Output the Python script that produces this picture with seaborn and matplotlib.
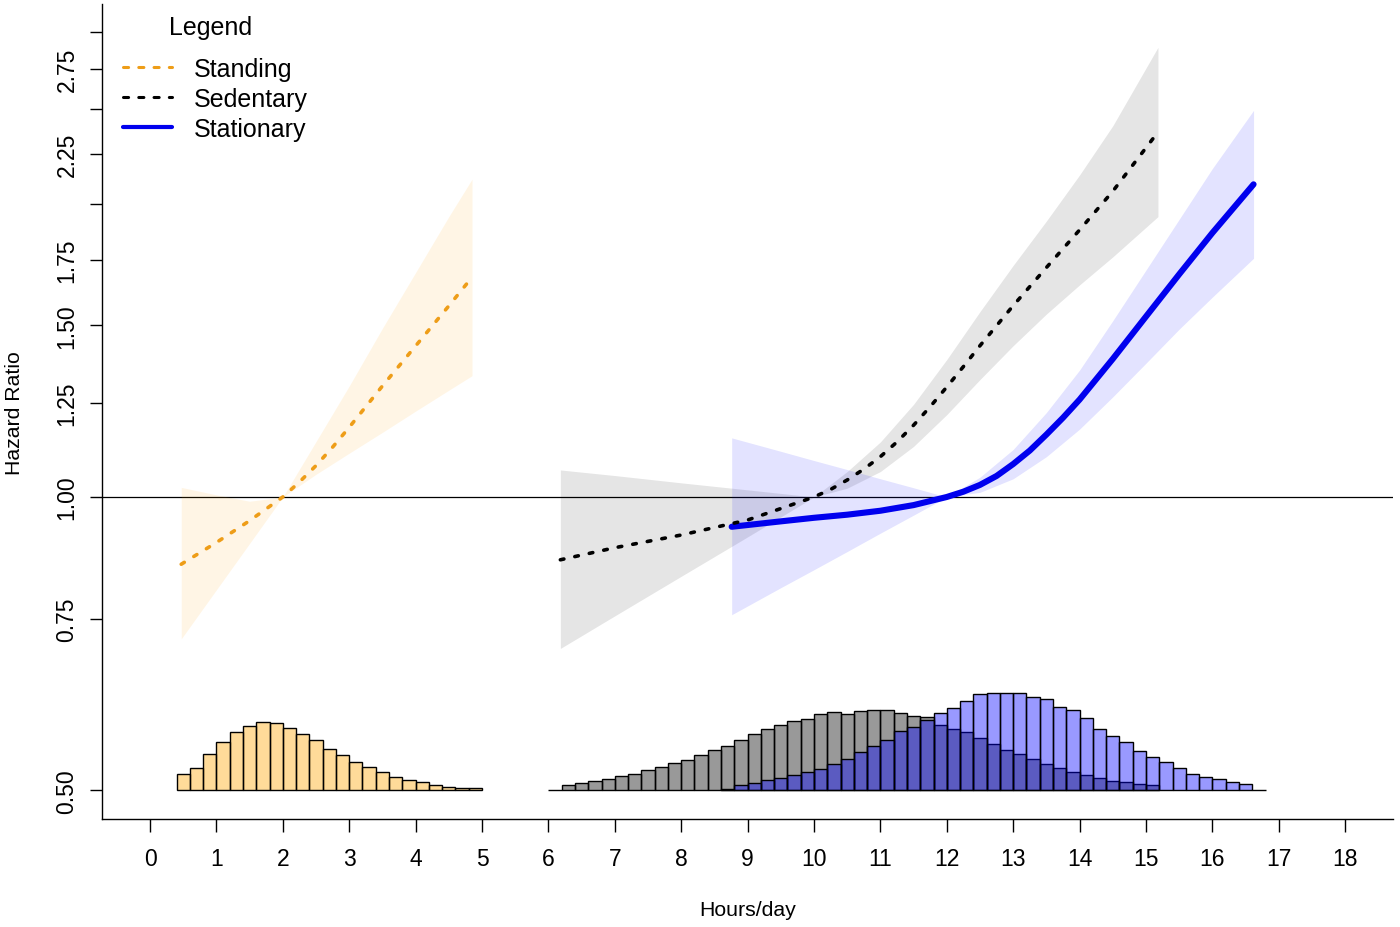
import numpy as np
import pandas as pd
import matplotlib
matplotlib.use("Agg")
import matplotlib.pyplot as plt
from matplotlib.ticker import NullLocator
from matplotlib.lines import Line2D
import seaborn as sns

# ---------------- data ----------------
# Standing (hours/day vs hazard ratio)
standing_line_hours = [0.47, 1.0, 1.5, 2.0, 2.25, 2.5, 2.75, 3.0, 3.5, 4.0, 4.5, 4.8]
standing_hr         = [0.853, 0.898, 0.9455, 1.0, 1.036, 1.077, 1.125, 1.179, 1.30, 1.429, 1.571, 1.665]
standing_ci_hours = [0.47, 1.0, 1.5, 2.0, 2.5, 3.0, 3.5, 4.0, 4.5, 4.85]
standing_upper    = [1.023, 1.005, 0.990, 1.0, 1.140, 1.30, 1.49, 1.700, 1.94, 2.120]
standing_lower    = [0.715, 0.803, 0.896, 1.0, 1.055, 1.109, 1.165, 1.225, 1.287, 1.332]

# Sedentary
sedentary_line_hours = [6.18, 7.0, 8.0, 9.0, 9.5, 10.0, 10.25, 10.5, 10.75, 11.0, 11.25, 11.5,
                        11.75, 12.0, 12.25, 12.5, 13.0, 13.5, 14.0, 14.5, 15.12]
sedentary_hr         = [0.862, 0.887, 0.914, 0.947, 0.973, 1.0, 1.018, 1.041, 1.068, 1.10, 1.139, 1.185,
                        1.238, 1.297, 1.361, 1.43, 1.572, 1.72, 1.88, 2.06, 2.34]
sedentary_ci_hours = [6.18, 7.0, 8.0, 9.0, 10.0, 10.5, 11.0, 11.5, 12.0, 12.5, 13.0, 13.5, 14.0, 14.5, 15.18]
sedentary_upper    = [1.066, 1.052, 1.034, 1.017, 1.0, 1.062, 1.139, 1.245, 1.384, 1.550, 1.729, 1.920, 2.141, 2.405, 2.895]
sedentary_lower    = [0.699, 0.755, 0.829, 0.910, 1.0, 1.021, 1.062, 1.127, 1.215, 1.320, 1.430, 1.541, 1.651, 1.764, 1.940]

# Stationary
stationary_line_hours = [8.76, 9.5, 10.0, 10.5, 11.0, 11.5, 12.0, 12.25, 12.5, 12.75, 13.0, 13.25,
                         13.5, 13.75, 14.0, 14.5, 15.0, 15.5, 16.0, 16.62]
stationary_hr         = [0.932, 0.944, 0.952, 0.959, 0.968, 0.981, 1.0, 1.0126, 1.029, 1.051, 1.081, 1.116,
                         1.159, 1.206, 1.259, 1.386, 1.532, 1.693, 1.867, 2.094]
stationary_ci_hours = [8.76, 9.5, 10.0, 10.5, 11.0, 11.5, 12.0, 12.5, 13.0, 13.5, 14.0, 14.5, 15.0, 15.5, 16.0, 16.62]
stationary_upper    = [1.150, 1.114, 1.090, 1.067, 1.044, 1.022, 1.0, 1.048, 1.119, 1.221, 1.350, 1.517, 1.710, 1.928, 2.174, 2.494]
stationary_lower    = [0.757, 0.807, 0.842, 0.879, 0.918, 0.958, 1.0, 1.011, 1.044, 1.100, 1.174, 1.267, 1.372, 1.487, 1.604, 1.758]

# histograms of exposure (relative frequency, arbitrary units), 0.2 h bins
hist_bin_width = 0.2
standing_hist_start = 0.4
standing_hist = [1.67, 2.23, 3.60, 4.83, 5.87, 6.47, 6.80, 6.73, 6.20, 5.60, 5.00, 4.13,
                 3.53, 2.87, 2.30, 1.83, 1.33, 1.03, 0.80, 0.57, 0.37, 0.27, 0.20]
sedentary_hist_start = 6.0
sedentary_hist = [0.0, 0.53, 0.73, 0.90, 1.17, 1.43, 1.63, 2.00, 2.30, 2.70, 3.03, 3.50,
                  4.07, 4.43, 5.03, 5.60, 6.13, 6.53, 6.87, 7.07, 7.63, 7.83, 7.63, 7.90,
                  8.00, 8.00, 7.73, 7.43, 7.33, 6.57, 6.17, 5.83, 5.20, 4.67, 4.07, 3.60,
                  3.10, 2.67, 2.27, 1.83, 1.57, 1.27, 0.97, 0.87, 0.60, 0.53]
stationary_hist_start = 8.6
stationary_hist = [0.10, 0.50, 0.77, 1.00, 1.20, 1.50, 1.83, 2.17, 2.67, 3.13, 3.83, 4.40,
                   5.03, 5.93, 6.37, 7.03, 7.73, 8.17, 8.90, 9.63, 9.73, 9.67, 9.73, 9.33,
                   9.13, 8.30, 7.97, 7.23, 6.17, 5.47, 4.83, 3.90, 3.33, 2.80, 2.23, 1.67,
                   1.33, 1.13, 0.83, 0.63, 0.0]

y_ticks = [0.50, 0.75, 1.00, 1.25, 1.50, 1.75, 2.00, 2.25, 2.50, 2.75, 3.00]
y_tick_labels = ["0.50", "0.75", "1.00", "1.25", "1.50", "1.75", "", "2.25", "", "2.75", ""]
x_ticks = list(range(0, 19))

series_names = ["Standing", "Sedentary", "Stationary"]

# ---------------- style ----------------
sns.set_style("white")
plt.rcParams["font.family"] = ["Liberation Sans", "DejaVu Sans"]
plt.rcParams["text.color"] = "black"
plt.rcParams["axes.labelcolor"] = "black"
plt.rcParams["xtick.color"] = "black"
plt.rcParams["ytick.color"] = "black"

ORANGE = (1.0, 0.647, 0.0)
ORANGE_LINE = "#EE9D18"
BLUE = (0.0, 0.0, 1.0)
BLUE_LINE = "#0000EE"

HIST_BASE = 0.5
HIST_GAIN = 10.0 / 423.0   # log-units per frequency unit

fig = plt.figure(figsize=(14, 9.28), dpi=100)
ax = fig.add_axes([0.07286, 0.11638, 0.92214, 0.87823])
ax.set_yscale("log")
ax.set_xlim(-0.723, 18.72)
ax.set_ylim(0.4671, 3.207)

# reference line
ax.axhline(1.0, color="black", lw=0.9, zorder=1)

# confidence bands
ax.fill_between(standing_ci_hours, standing_lower, standing_upper, color=ORANGE, alpha=0.10, lw=0, zorder=2)
ax.fill_between(sedentary_ci_hours, sedentary_lower, sedentary_upper, color="black", alpha=0.10, lw=0, zorder=2)
ax.fill_between(stationary_ci_hours, stationary_lower, stationary_upper, color=BLUE, alpha=0.11, lw=0, zorder=2)


def draw_hist(start, freqs, face):
    freqs = np.asarray(freqs, dtype=float)
    left = start + hist_bin_width * np.arange(len(freqs))
    tops = HIST_BASE * np.exp(freqs * HIST_GAIN)
    ax.bar(left, tops - HIST_BASE, width=hist_bin_width, bottom=HIST_BASE, align="edge",
           color=face, edgecolor="black", linewidth=1.0, zorder=3)


draw_hist(standing_hist_start, standing_hist, ORANGE + (0.4,))
draw_hist(sedentary_hist_start, sedentary_hist, (0, 0, 0, 0.4))
draw_hist(stationary_hist_start, stationary_hist, BLUE + (0.4,))

# curves
dot = (0, (1.0, 3.1))
sns.lineplot(x=standing_line_hours, y=standing_hr, ax=ax, color=ORANGE_LINE, lw=2.6,
             linestyle=dot, dash_capstyle="round", errorbar=None, legend=False, zorder=4)
sns.lineplot(x=stationary_line_hours, y=stationary_hr, ax=ax, color=BLUE_LINE, lw=4.4,
             solid_capstyle="round", solid_joinstyle="round", errorbar=None, legend=False, zorder=4)
sns.lineplot(x=sedentary_line_hours, y=sedentary_hr, ax=ax, color="black", lw=2.6,
             linestyle=dot, dash_capstyle="round", errorbar=None, legend=False, zorder=5)

# axes cosmetics
sns.despine(ax=ax, top=True, right=True)
for s in ("left", "bottom"):
    ax.spines[s].set_linewidth(1.0)
    ax.spines[s].set_color("black")

ax.yaxis.set_minor_locator(NullLocator())
ax.set_yticks(y_ticks)
ax.set_yticklabels(y_tick_labels, rotation=90, va="center", fontsize=16.5, color="black")
ax.set_xticks(x_ticks)
ax.set_xticklabels([str(t) for t in x_ticks], fontsize=16.5, color="black")
ax.tick_params(axis="y", which="major", length=9, width=1.0, pad=8, color="black", left=True)
ax.tick_params(axis="x", which="major", length=9, width=1.0, pad=11, color="black", bottom=True)
ax.set_xlabel("")
ax.set_ylabel("")

fig.text(15 / 1400, 1 - 413 / 928, "Hazard Ratio", rotation=90, ha="center", va="center",
         fontsize=15.3, color="black")
fig.text(748 / 1400, 1 - 911 / 928, "Hours/day", ha="center", va="center", fontsize=15.3, color="black")

# legend
handles = [
    Line2D([], [], color=ORANGE_LINE, lw=2.2, linestyle=(0, (1.67, 3.33)), dash_capstyle="round"),
    Line2D([], [], color="black", lw=2.2, linestyle=(0, (1.67, 3.33)), dash_capstyle="round"),
    Line2D([], [], color=BLUE_LINE, lw=3.0),
]
leg = fig.legend(handles, series_names, loc="upper left", bbox_to_anchor=(123 / 1400, 1 - 58 / 928),
                 bbox_transform=fig.transFigure, frameon=False, fontsize=18, borderpad=0,
                 borderaxespad=0, handlelength=1.96, handletextpad=0.88, labelspacing=0.24)
for t in leg.get_texts():
    t.set_color("black")
fig.text(211 / 1400, 1 - 28 / 928, "Legend", ha="center", va="center", fontsize=18, color="black")

fig.savefig("out.png", dpi=100)
